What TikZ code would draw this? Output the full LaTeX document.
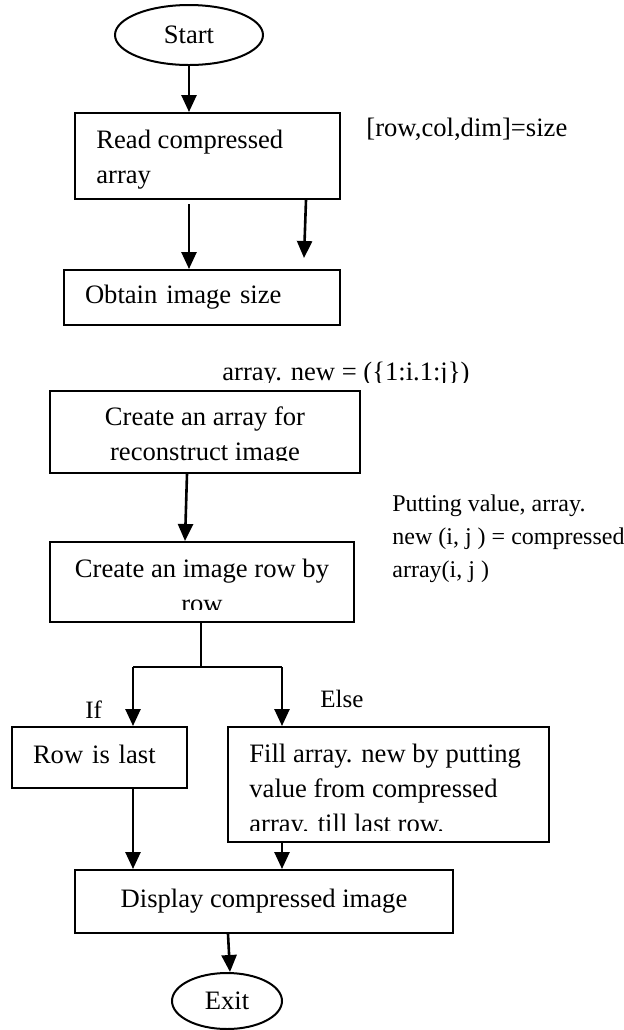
\documentclass[tikz,border=0pt]{standalone}
\usepackage{fontspec}
\setmainfont{Liberation Serif}
\usetikzlibrary{arrows.meta,shapes.geometric}
\begin{document}
\begin{tikzpicture}[x=0.5pt,y=-0.5pt,
  every node/.style={font=\fontsize{13.3}{17.5}\selectfont},
  box/.style={draw,line width=1pt,rectangle,inner sep=0pt},
  oval/.style={draw,line width=1pt,ellipse,inner sep=0pt},
  txt/.style={inner sep=0pt,align=left,anchor=base west},
  ctxt/.style={inner sep=0pt,align=center,anchor=base},
  arr/.style={line width=1.3pt,-{Triangle[length=8.5pt,width=7.5pt]}},
  link/.style={line width=0.9pt},
  mask/.style={fill=white,draw=none}]
\useasboundingbox (0,0) rectangle (624,1030);

% terminals
\node[oval,minimum width=74pt,minimum height=30pt] (start) at (189,35) {Start};
\node[oval,minimum width=55pt,minimum height=28pt] (exit) at (227,1001) {Exit};

% process boxes (multi-line texts are anchored at the baseline of their last line)
\node[box,minimum width=132.5pt,minimum height=43pt] (read) at (207.5,156) {};
\node[txt] (readtxt) at (96,183) {Read compressed\\array};

\node[box,inner xsep=10.5pt,text width=117pt,align=left,minimum height=27.5pt,text depth=3pt]
  (obtain) at (202,297.5) {Obtain image size};

\node[box,minimum width=155pt,minimum height=41pt] (ca) at (205,432) {};
\node[ctxt] (catxt) at (205,460) {Create an array for\\reconstruct image};

\node[box,minimum width=152pt,minimum height=40pt] (cr) at (202,582) {};
\node[ctxt] (crtxt) at (202,612) {Create an image row by\\row};

\node[box,inner xsep=10.5pt,text width=66.5pt,align=left,minimum height=30.5pt,text depth=3pt]
  (rowlast) at (99.5,757.5) {Row is last};

\node[box,minimum width=160.5pt,minimum height=57.5pt] (fill) at (388.5,784.5) {};
\node[txt] (filltxt) at (249,832) {Fill array. new by putting\\value from compressed\\array. till last row.};

\node[box,minimum width=189pt,minimum height=31.5pt,text depth=3pt]
  (display) at (264,901.5) {Display compressed image};

% side notes
\node[txt] (sizelbl) at (366,136) {[row,col,dim]=size};
\node[txt] (newlbl) at (222,380) {array. new = (\{1:i.1:j\})};
\node[txt,font=\fontsize{12}{16.5}\selectfont] (putlbl) at (392,577)
  {Putting value, array.\\new (i, j ) = compressed\\array(i, j )};
\node[txt,font=\fontsize{12.5}{15}\selectfont] (iflbl) at (85,718) {If};
\node[txt,font=\fontsize{12.5}{15}\selectfont] (elselbl) at (320,707) {Else};

% overflowing text boxes cut their last line
\fill[mask] (220,382.5) rectangle (475,389.6);
\fill[mask] (52,461) rectangle (358,471.2);
\fill[mask] (52,610) rectangle (352,620.2);
\fill[mask] (230,831) rectangle (547,840.2);

% connectors
\draw[arr] (start.south) -- (start.south |- read.north);

\coordinate (r1) at ([yshift=-2pt]read.south);
\draw[arr] (r1 -| start.south) -- (obtain.north -| start.south);

\coordinate (fa1) at (306,200);
\coordinate (fa2) at (304,258);
\draw[arr] (fa1) -- (fa2);

\draw[arr] ([xshift=-9pt]ca.south) -- ([xshift=-8.5pt]cr.north);

\coordinate (split) at (201,667);
\coordinate (lt) at (133,667);
\coordinate (rt) at (282,667);
\draw[link] (cr.south -| split) -- (split);
\draw[link] (lt) -- (rt);
\draw[arr] (lt) -- (lt |- rowlast.north);
\draw[arr] (rt) -- (rt |- fill.north);

\draw[arr] (rowlast.south -| lt) -- (display.north -| lt);
\draw[arr] (fill.south -| rt) -- (display.north -| rt);

\draw[arr] ([xshift=-18pt]display.south) -- ([xshift=1.5pt]exit.north);
\end{tikzpicture}
\end{document}
